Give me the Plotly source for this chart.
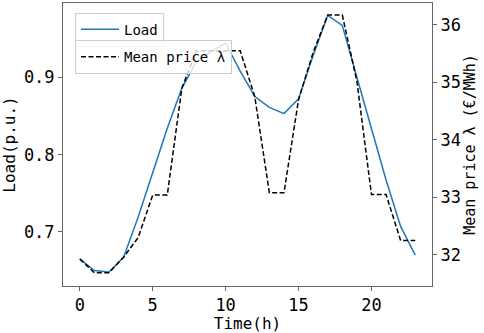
import plotly.graph_objects as go

hours = list(range(24))
load = [0.665, 0.650, 0.648, 0.667, 0.719, 0.778, 0.834, 0.886, 0.920, 0.933,
        0.944, 0.908, 0.875, 0.861, 0.853, 0.872, 0.928, 0.980, 0.967, 0.900,
        0.833, 0.767, 0.707, 0.670]
price = [31.93, 31.69, 31.69, 31.96, 32.30, 33.04, 33.04, 34.90, 35.55, 35.55,
         35.55, 35.55, 34.75, 33.08, 33.08, 34.70, 35.52, 36.17, 36.17, 35.02,
         33.05, 33.05, 32.25, 32.25]
x_ticks = [0, 5, 10, 15, 20]
y_ticks = [0.7, 0.8, 0.9]
y2_ticks = [32, 33, 34, 35, 36]

FONT = "DejaVu Sans Mono"
AX = "#666666"

fig = go.Figure()
fig.add_trace(go.Scatter(x=hours, y=load, mode="lines", name="Load",
                         line=dict(color="#1f77b4", width=1.5), legend="legend"))
fig.add_trace(go.Scatter(x=hours, y=price, mode="lines", name="Mean price λ", yaxis="y2",
                         line=dict(color="black", width=1.5, dash="5px,2.5px"), legend="legend2"))

legend_style = dict(bgcolor="rgba(255,255,255,0.8)", bordercolor="#cccccc", borderwidth=1,
                    font=dict(family=FONT, size=14, color="black"), xanchor="left",
                    yanchor="top", itemwidth=38, tracegroupgap=0)

fig.update_layout(
    width=484, height=333,
    margin=dict(l=63, r=52, t=3, b=47, autoexpand=False),
    plot_bgcolor="white", paper_bgcolor="white",
    font=dict(family=FONT, color="black", size=17),
    xaxis=dict(range=[-1.15, 24.15], tickvals=x_ticks, showgrid=False, zeroline=False,
               showline=True, linecolor=AX, linewidth=1, mirror=True, automargin=False,
               ticks="outside", ticklen=4, tickcolor=AX,
               title=dict(text="Time(h)", font=dict(size=16), standoff=2)),
    yaxis=dict(range=[0.630, 0.996], tickvals=y_ticks, ticktext=["0.7", "0.8", "0.9"],
               showgrid=False, zeroline=False, showline=True, linecolor=AX, linewidth=1,
               ticks="outside", ticklen=4, tickcolor=AX, automargin=False,
               title=dict(text="Load(p.u.)", font=dict(size=16), standoff=4)),
    yaxis2=dict(range=[31.46, 36.38], tickvals=y2_ticks, overlaying="y", side="right",
                showgrid=False, zeroline=False, showline=True, linecolor=AX, linewidth=1,
                ticks="outside", ticklen=4, tickcolor=AX, automargin=False,
                title=dict(text="Mean price λ (€/MWh)", font=dict(size=15), standoff=3)),
    legend=dict(x=0.0325, y=0.966, **legend_style),
    legend2=dict(x=0.0325, y=0.869, **legend_style),
    showlegend=True,
)

fig.write_html("out.html", config={"displayModeBar": False},
               post_script="document.body.style.margin='0';")
